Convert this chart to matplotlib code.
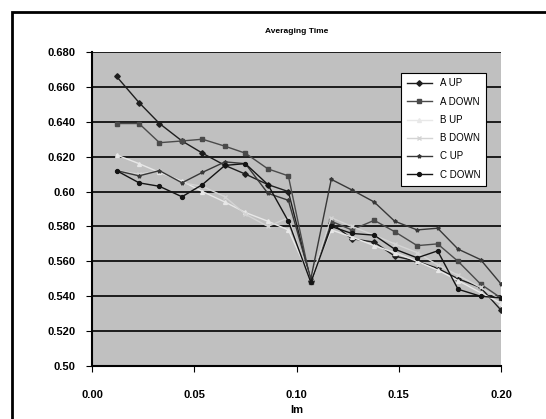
import matplotlib
matplotlib.use("Agg")
import matplotlib.pyplot as plt
from matplotlib.patches import Rectangle

plt.rcParams['font.family'] = ['Liberation Sans', 'DejaVu Sans']

# x positions
x = [0.012, 0.023, 0.033, 0.044, 0.054, 0.065, 0.075, 0.086, 0.096, 0.107,
     0.117, 0.127, 0.138, 0.148, 0.159, 0.169, 0.179, 0.190, 0.200]

a_up = [0.666, 0.651, 0.639, 0.629, 0.622, 0.615, 0.610, 0.604, 0.600, 0.549,
        0.582, 0.573, 0.571, 0.563, 0.560, 0.556, 0.550, 0.545, 0.532]
a_down = [0.639, 0.639, 0.628, 0.629, 0.630, 0.626, 0.622, 0.613, 0.609, 0.548,
          0.583, 0.578, 0.5835, 0.577, 0.569, 0.570, 0.560, 0.547, 0.539]
b_up = [0.621, 0.616, 0.611, 0.606, 0.600, 0.594, 0.588, 0.583, 0.578, 0.550,
        0.578, 0.574, 0.569, 0.565, 0.560, 0.555, 0.549, 0.542, 0.536]
b_down = [0.612, 0.610, 0.612, 0.605, 0.603, 0.597, 0.587, 0.580, 0.585, 0.549,
          0.585, 0.580, 0.575, 0.570, 0.565, 0.558, 0.552, 0.545, 0.538]
c_up = [0.612, 0.609, 0.612, 0.605, 0.611, 0.617, 0.616, 0.599, 0.595, 0.550,
        0.607, 0.601, 0.594, 0.583, 0.578, 0.579, 0.567, 0.561, 0.547]
c_down = [0.612, 0.605, 0.603, 0.597, 0.604, 0.615, 0.616, 0.604, 0.583, 0.548,
          0.580, 0.576, 0.575, 0.567, 0.562, 0.566, 0.544, 0.540, 0.539]

names = ["A UP", "A DOWN", "B UP", "B DOWN", "C UP", "C DOWN"]
series = [a_up, a_down, b_up, b_down, c_up, c_down]

y_ticks = [0.50, 0.52, 0.54, 0.56, 0.58, 0.60, 0.62, 0.64, 0.66, 0.68]
y_labels = ["0.50", "0.520", "0.540", "0.560", "0.580", "0.60", "0.620", "0.640", "0.660", "0.680"]
x_ticks = [0.00, 0.05, 0.10, 0.15, 0.20]
x_labels = ["0.00", "0.05", "0.10", "0.15", "0.20"]

colors = ["#1e1e1e", "#4a4a4a", "#e8e8e8", "#d4d4d4", "#383838", "#141414"]
markers = ["D", "s", "^", "x", "*", "o"]

fig = plt.figure(figsize=(5.46, 4.19), dpi=100)
ax = fig.add_axes([0.1685, 0.1265, 0.7491, 0.7494])
ax.set_facecolor("#c0c0c0")

for s, name, c, m in zip(series, names, colors, markers):
    ax.plot(x, s, color=c, marker=m, markersize=2.8, linewidth=1.0, label=name)

ax.set_xlim(0, 0.20)
ax.set_ylim(0.50, 0.68)
ax.set_yticks(y_ticks)
ax.set_yticklabels(y_labels, fontsize=8, fontweight='bold')
ax.set_xticks(x_ticks)
ax.set_xticklabels(x_labels, fontsize=8, fontweight='bold')
ax.tick_params(axis='y', direction='out', length=4, pad=8)
ax.tick_params(axis='x', direction='out', length=4, pad=13)
ax.grid(axis='y', color='black', linewidth=1.2)
ax.set_axisbelow(True)
for side in ['top', 'right']:
    ax.spines[side].set_visible(False)
ax.spines['left'].set_linewidth(1.5)
ax.spines['bottom'].set_linewidth(1.5)

ax.set_title("Averaging Time", fontsize=6, fontweight='bold', pad=14)
ax.set_xlabel("Im", fontsize=8, fontweight='bold', labelpad=4)

leg = ax.legend(loc='upper right', bbox_to_anchor=(0.975, 0.95), fontsize=7,
                frameon=True, fancybox=False, framealpha=1, edgecolor='black',
                handlelength=2.6, labelspacing=0.85, borderpad=0.6)
leg.get_frame().set_linewidth(0.8)

fig.patches.append(Rectangle((12 / 546, -0.01), 1.0, 1 - 12 / 419 + 0.01,
                             transform=fig.transFigure, fill=False,
                             edgecolor='black', linewidth=2))

fig.savefig("out.png", dpi=100)
